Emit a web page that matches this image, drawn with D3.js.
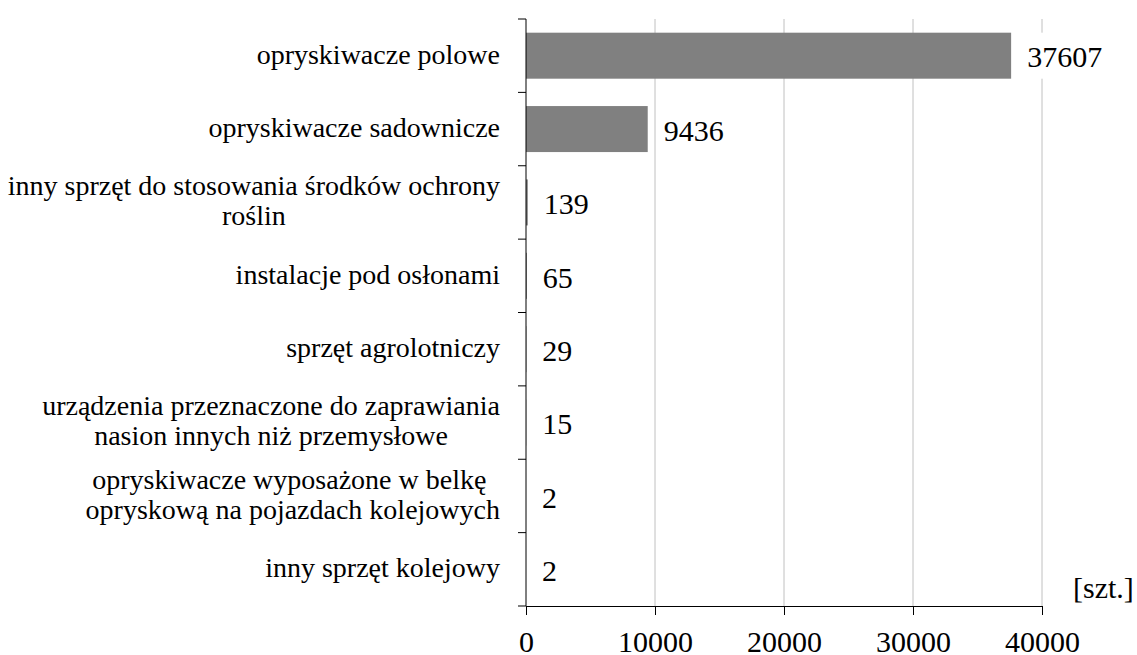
<!DOCTYPE html>
<html>
<head>
<meta charset="utf-8">
<script src="https://cdn.jsdelivr.net/npm/d3@7"></script>
<style>
  body { margin: 0; background: white; }
  svg { font-family: "Liberation Serif", "Times New Roman", serif; }
  .catLabel { font-size: 28px; fill: black; }
  .valLabel { font-size: 30px; fill: black; }
  .axisX text { font-size: 30px; fill: black; font-family: "Liberation Serif", "Times New Roman", serif; }
</style>
</head>
<body>
<svg class="chart"></svg>
<script>
var categories = [
  'opryskiwacze polowe',
  'opryskiwacze sadownicze',
  'inny sprzęt do stosowania środków ochrony\nroślin',
  'instalacje pod osłonami',
  'sprzęt agrolotniczy',
  'urządzenia przeznaczone do zaprawiania\nnasion innych niż przemysłowe',
  'opryskiwacze wyposażone w belkę \nopryskową na pojazdach kolejowych',
  'inny sprzęt kolejowy'
];
var values = [37607, 9436, 139, 65, 29, 15, 2, 2];
var xTicks = [0, 10000, 20000, 30000, 40000];
var unitLabel = '[szt.]';

var chartWidth = 1137;
var chartHeight = 655;
var plotLeft = 526, plotRight = 1042, plotTop = 19, plotBottom = 606;

var chart = d3.select('.chart').attr('width', chartWidth).attr('height', chartHeight);

var x = d3.scaleLinear().domain([0, 40000]).range([plotLeft, plotRight]);
var y = d3.scaleBand().domain(d3.range(categories.length))
    .range([plotTop, plotBottom]).paddingInner(0.373).paddingOuter(0.1865);
var step = y.step();

// vertical gridlines
chart.append('g')
    .selectAll('line')
    .data(xTicks.filter(d => d > 0))
    .join('line')
    .attr('x1', d => x(d)).attr('x2', d => x(d))
    .attr('y1', plotTop).attr('y2', plotBottom)
    .style('stroke', '#c0c0c0')
    .style('stroke-width', 1);

// bars
chart.append('g')
    .selectAll('rect')
    .data(values)
    .join('rect')
    .attr('x', x(0))
    .attr('y', (d, i) => y(i))
    .attr('width', d => x(d) - x(0))
    .attr('height', y.bandwidth())
    .style('fill', '#808080');

// value labels with white boxes
var vals = chart.append('g')
    .selectAll('g.val')
    .data(values)
    .join('g')
    .attr('class', 'val');

vals.append('rect').attr('class', 'bg');
vals.append('text')
    .attr('class', 'valLabel')
    .attr('x', d => x(d) + 16)
    .attr('y', (d, i) => y(i) + y.bandwidth() / 2)
    .attr('dy', '0.39em')
    .text(d => d);

vals.each(function(d, i) {
  var g = d3.select(this);
  var bb = g.select('text').node().getBBox();
  g.select('rect.bg')
      .attr('x', bb.x - 6)
      .attr('y', y(i))
      .attr('width', bb.width + 12)
      .attr('height', y.bandwidth())
      .style('fill', 'white');
});

// x axis
var xAxis = d3.axisBottom(x).tickValues(xTicks).tickSize(9).tickSizeOuter(0)
    .tickFormat(d => d);
var gx = chart.append('g')
    .attr('class', 'axisX')
    .attr('transform', 'translate(0,' + plotBottom + ')')
    .call(xAxis);
gx.select('.domain').style('stroke', 'black');
gx.selectAll('.tick line').style('stroke', 'black');
gx.selectAll('.tick text').attr('y', 46).attr('dy', '0');

// y axis line and boundary ticks
chart.append('line')
    .attr('x1', plotLeft).attr('x2', plotLeft)
    .attr('y1', plotTop).attr('y2', plotBottom)
    .style('stroke', 'black');
chart.append('g')
    .selectAll('line')
    .data(d3.range(categories.length + 1))
    .join('line')
    .attr('x1', plotLeft - 8).attr('x2', plotLeft)
    .attr('y1', i => plotTop + i * step).attr('y2', i => plotTop + i * step)
    .style('stroke', 'black');

// category labels, multi-line centred as a block, block right aligned
var labelRight = 500;
var lineGap = 30;
categories.forEach(function(c, i) {
  var lines = c.split('\n');
  var cy = y(i) + y.bandwidth() / 2;
  var t = chart.append('text').attr('class', 'catLabel');
  var spans = t.selectAll('tspan')
      .data(lines)
      .join('tspan')
      .attr('y', (d, j) => cy + (j - (lines.length - 1) / 2) * lineGap)
      .attr('dy', '0.28em')
      .style('white-space', 'pre')
      .text(d => d);
  if (lines.length === 1) {
    spans.attr('x', labelRight).attr('text-anchor', 'end');
  } else {
    var w = d3.max(spans.nodes(), n => n.getComputedTextLength());
    spans.attr('x', labelRight - w / 2).attr('text-anchor', 'middle');
  }
});

// unit label
chart.append('text')
    .attr('class', 'valLabel')
    .attr('x', 1073)
    .attr('y', 598)
    .text(unitLabel);
</script>
</body>
</html>
